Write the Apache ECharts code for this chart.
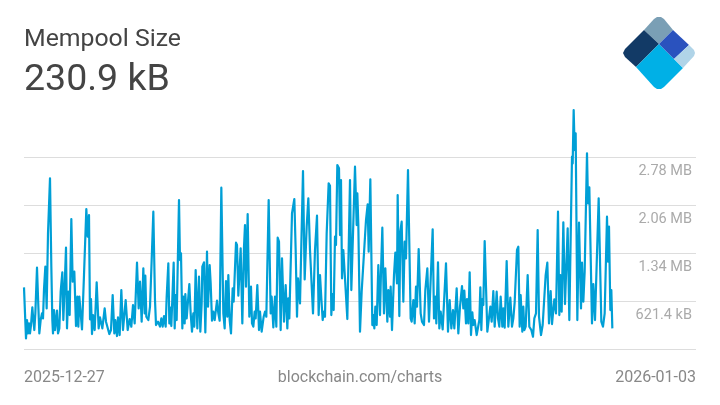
<!DOCTYPE html>
<html><head><meta charset="utf-8">
<style>html,body{margin:0;padding:0;background:#fff}#c{width:720px;height:405px}</style>
<script src="https://cdn.jsdelivr.net/npm/echarts@6/dist/echarts.min.js"></script>
</head><body><div id="c"></div>
<script>
const chartTitle = 'Mempool Size';
const latestValue = '230.9 kB';
const sourceLabel = 'blockchain.com/charts';
const dateLabels = ['2025-12-27', '2026-01-03'];
const yTickLabels = ['', '621.4 kB', '1.34 MB', '2.06 MB', '2.78 MB'];
// reading number (one reading about every 5.7 minutes across the seven days)
const readings = [0,3,6,9,12,15,18,21,25,28,31,34,39,42,46,50,54,57,60,64,68,72,78,82,85,87,90,93,96,99,102,106,110,115,118,122,126,129,133,137,142,146,151,156,160,163,166,170,174,180,187,191,195,198,201,204,207,212,218,224,228,235,242,246,250,256,261,266,271,274,279,282,287,292,297,305,311,317,322,327,332,339,344,348,353,358,362,364,367,373,378,383,388,393,396,402,408,412,416,420,425,428,433,436,
438,442,449,452,455,458,465,468,471,475,478,482,484,488,492,496,500,504,508,511,515,520,525,529,533,535,540,544,549,552,557,560,564,568,572,579,583,587,592,598,602,606,610,613,617,621,626,629,636,639,643,650,655,660,663,666,671,676,681,684,688,692,695,700,705,708,713,719,723,727,734,740,743,748,753,757,761,765,770,774,780,785,790,793,796,804,808,811,815,819,822,828,837,842,848,853,858,867,873,879,884,
888,892,896,900,903,908,914,918,922,925,929,933,936,940,945,948,951,954,958,964,970,978,982,986,993,998,1000,1003,1008,1013,1019,1026,1031,1034,1039,1045,1048,1051,1054,1058,1063,1068,1071,1075,1080,1084,1090,1093,1098,1100,1104,1110,1114,1119,1121,1126,1129,1133,1138,1142,1146,1152,1160,1163,1168,1172,1176,1179,1184,1190,1194,1200,1204,1210,1215,1221,1226,1230,1234,1237,1242,1246,1250,1256,1266,1272,1277,1282,1287,1291,1298,1303,1308,1314,1318,1321,1326,1329,1333,1337,
1341,1345,1348,1352,1358,1366,1369,1372,1375,1378,1382,1386,1390,1395,1399,1403,1408,1412,1418,1422,1426,1430,1435,1438,1442,1448,1453,1459,1464,1468,1472,1479,1483,1487,1490,1495,1498,1501,1505,1511,1516,1522,1527,1531,1536,1541,1545,1551,1556,1560,1565,1570,1575,1580,1584,1591,1596,1602,1606,1609,1613,1618,1623,1631,1636,1644,1646,1649,1652,1655,1660,1665,1671,1674,1678,1682,1689,1692,1696,1704,1708,1713,1724,1732,1737,1742,1749,1752,1755,1759,1762,1765];
// mempool size in kB at each reading
const mempoolKb = [826,436,61,336,136,286,136,261,526,336,186,436,1121,686,136,336,436,361,796,1136,511,1636,2461,1136,336,136,486,186,186,476,136,211,761,1051,336,836,1421,211,761,411,1851,911,1061,246,686,236,686,436,196,1011,2001,1586,1911,346,651,126,411,186,901,211,376,211,511,311,311,126,186,711,136,336,96,376,111,786,186,636,186,351,236,561,286,1196,511,911,311,1111,436,1001,386,336,536,1236,1961,636,261,311,236,361,236,396,236,686,1186,286,
526,246,1196,211,711,336,2136,1236,1336,211,686,286,726,361,361,876,436,161,436,236,1086,211,986,161,586,1136,1201,151,1361,536,1161,886,326,461,336,626,436,326,2321,436,211,921,386,1011,336,136,811,611,1496,1461,701,1411,286,1436,1761,836,1926,386,836,286,236,461,361,861,186,461,161,386,461,386,2136,436,686,226,686,236,1571,1511,186,1261,311,861,211,661,361,1936,1961,2151,1386,386,961,586,2571,946,1736,2161,1386,436,1386,1901,411,
1011,661,336,461,386,1636,2386,2351,411,726,486,1586,1461,2661,2611,1611,2436,961,1386,1361,351,2436,786,786,2636,1761,2236,1761,161,761,746,1836,2071,1361,2446,261,411,211,536,261,1161,411,1061,1721,436,1111,311,786,386,836,186,1011,1346,886,2211,396,1661,1811,611,1511,1261,2586,361,311,636,286,836,536,1401,436,311,261,786,1111,311,336,1696,361,686,286,1201,211,461,196,1186,161,636,211,486,211,811,136,536,846,511,776,286,651,286,1051,
111,451,261,336,111,336,826,186,651,561,1521,836,161,161,536,311,771,236,761,361,236,686,236,511,221,1221,236,671,236,361,601,1386,1436,236,711,161,536,186,236,1011,236,186,86,361,436,1686,386,111,261,261,1011,1196,286,771,276,646,436,1961,411,1011,461,1801,576,1711,336,2786,2686,3486,2886,3136,336,1796,511,1196,611,1061,2836,2086,2326,286,876,336,2161,311,236,436,1886,1211,1736,486,786,211];

const axisEndReading = 2016;
const seriesData = readings.map((r, i) => [r, mempoolKb[i]]);

const chart = echarts.init(document.getElementById('c'), null, {renderer: 'canvas'});
const font = 'Roboto';
const poly = (points, fill) => ({type: 'polygon', shape: {points}, style: {fill}, silent: true});
chart.setOption({
  animation: false,
  backgroundColor: '#fff',
  title: [
    {text: chartTitle, left: 24, top: 27, padding: 0, textStyle: {fontFamily: font, fontSize: 24.8, fontWeight: 'normal', color: '#444'}},
    {text: latestValue, left: 24, top: 62, padding: 0, textStyle: {fontFamily: font, fontSize: 37.5, fontWeight: 'normal', color: '#444'}},
    {text: sourceLabel, left: 'center', top: 370, padding: 0, textStyle: {fontFamily: font, fontSize: 16, fontWeight: 'normal', color: '#888'}}
  ],
  grid: {left: 24, right: 24, top: 157, bottom: 56},
  xAxis: {
    type: 'value', min: 0, max: axisEndReading, interval: axisEndReading,
    axisLine: {show: false}, axisTick: {show: false}, splitLine: {show: false},
    axisLabel: {
      formatter: (v) => v === 0 ? dateLabels[0] : dateLabels[1],
      alignMinLabel: 'left', alignMaxLabel: 'right', showMinLabel: true, showMaxLabel: true,
      margin: 21, fontFamily: font, fontSize: 16, color: '#888'
    }
  },
  yAxis: {
    type: 'value', position: 'right', min: -98.6, max: 2781.4, interval: 720,
    axisLine: {show: false}, axisTick: {show: false},
    splitLine: {show: true, lineStyle: {color: '#ddd', width: 1}},
    axisLabel: {
      inside: true, margin: 4, fontFamily: font, fontSize: 14.5, color: '#aaa',
      verticalAlign: 'top', padding: [6.5, 0, 0, 0],
      formatter: (v) => yTickLabels[Math.round((v + 98.6) / 720)] || ''
    }
  },
  series: [{
    type: 'line', data: seriesData, showSymbol: false, clip: false, smooth: false,
    lineStyle: {color: '#009fd6', width: 2.2, join: 'round'}, itemStyle: {color: '#009fd6'}
  }],
  graphic: [
    poly([[654,19],[657,17],[661,17],[664,19],[673,30],[659,44],[644,30]], '#7a9fb5'),
    poly([[644,30],[659,44],[636,67],[625,57],[623,53],[625,49]], '#123a66'),
    poly([[659,44],[683,68],[664,87],[661,89],[657,89],[654,87],[636,67]], '#00b0e6'),
    poly([[673,30],[689,45],[674,59],[659,44]], '#2a52be'),
    poly([[689,45],[694,50],[695,53],[694,56],[683,68],[674,59]], '#b0d4e8')
  ]
});
</script></body></html>
